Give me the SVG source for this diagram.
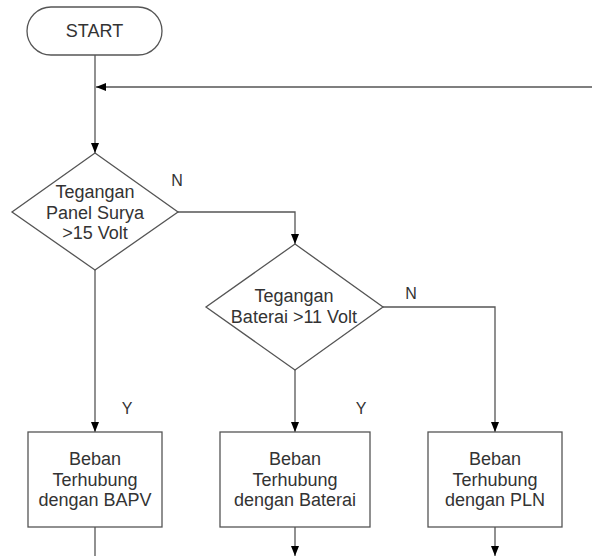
<svg xmlns="http://www.w3.org/2000/svg" width="592" height="556" viewBox="0 0 592 556">
<defs>
<style>
.shape{fill:#fff;stroke:#555;stroke-width:1.3}
.line{fill:none;stroke:#555;stroke-width:1.3}
text{font-family:"Liberation Sans",Arial,sans-serif;font-size:18px;fill:#333;text-anchor:middle}
.lbl{font-size:16px}
</style>
<marker id="arr" viewBox="0 0 10 10" refX="10" refY="5" markerWidth="10" markerHeight="10" markerUnits="userSpaceOnUse" orient="auto">
<path d="M0,1 L10,5 L0,9 z" fill="#000"/>
</marker>
</defs>
<g id="connectors">
<path class="line" d="M95,55 V153" marker-end="url(#arr)"/>
<path class="line" d="M592,87 H96" marker-end="url(#arr)"/>
<path class="line" d="M178,212 H295 V244" marker-end="url(#arr)"/>
<path class="line" d="M95,270 V432" marker-end="url(#arr)"/>
<path class="line" d="M295,370 V432" marker-end="url(#arr)"/>
<path class="line" d="M383,307 H495 V432" marker-end="url(#arr)"/>
<path class="line" d="M95,527 V556"/>
<path class="line" d="M295,527 V556" marker-end="url(#arr)"/>
<path class="line" d="M495,527 V556" marker-end="url(#arr)"/>
<text class="lbl" x="177" y="186">N</text>
<text class="lbl" x="411" y="299">N</text>
<text class="lbl" x="127" y="414">Y</text>
<text class="lbl" x="361" y="414">Y</text>
</g>
<g id="start">
<rect class="shape" x="27" y="7" width="135" height="48" rx="24" ry="24"/>
<text x="94.5" y="37">START</text>
</g>
<g id="decision1">
<polygon class="shape" points="95,153 178,212 95,270 12,212"/>
<text x="95" y="198">Tegangan</text>
<text x="95" y="219">Panel Surya</text>
<text x="95" y="239">&gt;15 Volt</text>
</g>
<g id="decision2">
<polygon class="shape" points="295,244 383,307 295,370 206,307"/>
<text x="294" y="302">Tegangan</text>
<text x="294" y="323">Baterai &gt;11 Volt</text>
</g>
<g id="box1">
<rect class="shape" x="28" y="432" width="134" height="95"/>
<text x="95" y="465">Beban</text>
<text x="95" y="486">Terhubung</text>
<text x="95" y="506">dengan BAPV</text>
</g>
<g id="box2">
<rect class="shape" x="220" y="432" width="150" height="95"/>
<text x="295" y="465">Beban</text>
<text x="295" y="486">Terhubung</text>
<text x="295" y="506">dengan Baterai</text>
</g>
<g id="box3">
<rect class="shape" x="428" y="432" width="134" height="95"/>
<text x="495" y="465">Beban</text>
<text x="495" y="486">Terhubung</text>
<text x="495" y="506">dengan PLN</text>
</g>
</svg>
